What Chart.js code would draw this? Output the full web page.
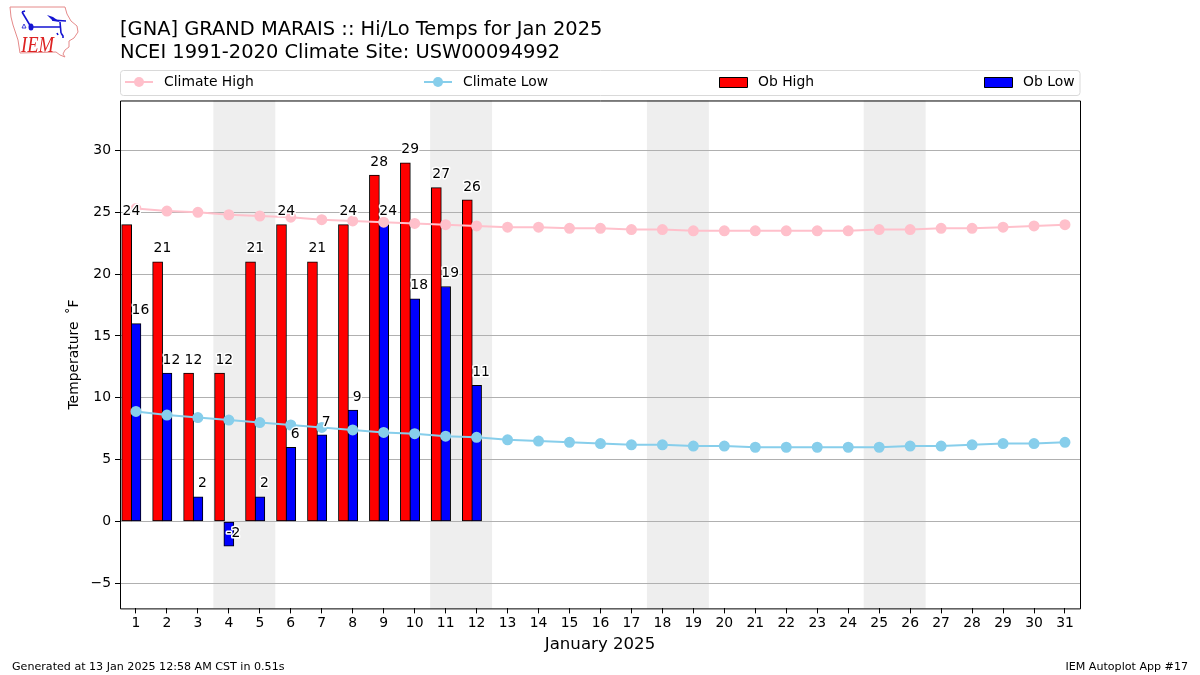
<!DOCTYPE html>
<html>
<head>
<meta charset="utf-8">
<title>GNA Hi/Lo Temps</title>
<script src="https://cdn.jsdelivr.net/npm/chart.js@4"></script>
<style>
    body { margin: 0; background: #fff; }
    #wrap { position: relative; width: 1200px; height: 675px; }
    #logo { position: absolute; left: 0; top: 0; }
</style>
</head>
<body>
<div id="wrap">
    <canvas id="tempChart" width="1200" height="675"></canvas>
    <svg id="logo" width="90" height="64" viewBox="0 0 90 64">
        <path d="M10 7 L65 7 L67 14 L71 21 L77 26 L78 32 L74 38 L69 41 L69 47 L65 50 L63 54 L65 57 L60 55 L56 52 L20 53 L18 40 L13 25 L11 17 Z" fill="#fff" stroke="#e58a8a" stroke-width="1"/>
        <path d="M31 27 L60 27 M60 22 L61 33 M52 20 L66 21 M31 27 L25 17 L22 12 M22 12 L25 11 M61 33 L63 36 L63 38 M57 33 L58 35" fill="none" stroke="#1414d2" stroke-width="1.6"/>
        <path d="M47 15 L53 17 L60 22 L53 21 Z" fill="#1414d2"/>
        <ellipse cx="31" cy="27" rx="2.5" ry="3.5" fill="#1414d2"/>
        <path d="M24 24 L26 28 L22 28 Z" fill="none" stroke="#1414d2" stroke-width="0.8"/>
        <text x="21" y="52" font-family="Liberation Serif" font-style="italic" font-size="24" textLength="33" lengthAdjust="spacingAndGlyphs" fill="#d22">IEM</text>
    </svg>
</div>
<script>
// hodnoty
const days = [1,2,3,4,5,6,7,8,9,10,11,12,13,14,15,16,17,18,19,20,21,22,23,24,25,26,27,28,29,30,31];
const obHigh = [24,21,12,12,21,24,21,24,28,29,27,26];
const obLow = [16,12,2,-2,2,6,7,9,24,18,19,11];
const climateHigh = [25.3,25.1,25.0,24.8,24.7,24.6,24.4,24.3,24.2,24.1,24.0,23.9,23.8,23.8,23.7,23.7,23.6,23.6,23.5,23.5,23.5,23.5,23.5,23.5,23.6,23.6,23.7,23.7,23.8,23.9,24.0];
const climateLow = [8.9,8.6,8.4,8.2,8.0,7.8,7.6,7.4,7.2,7.1,6.9,6.8,6.6,6.5,6.4,6.3,6.2,6.2,6.1,6.1,6.0,6.0,6.0,6.0,6.0,6.1,6.1,6.2,6.3,6.3,6.4];
const yTicks = [-5,0,5,10,15,20,25,30];
const weekends = [[3.5,5.5],[10.5,12.5],[17.5,19.5],[24.5,26.5]];
const titleLines = ['[GNA] GRAND MARAIS :: Hi/Lo Temps for Jan 2025', 'NCEI 1991-2020 Climate Site: USW00094992'];
const footerLeft = 'Generated at 13 Jan 2025 12:58 AM CST in 0.51s';
const footerRight = 'IEM Autoplot App #17';

const FONT = '"DejaVu Sans"';

// sede pruhy vikendu pod mrizkou
const weekendBands = {
    id: 'weekendBands',
    beforeDraw(chart) {
        const { ctx, chartArea, scales } = chart;
        ctx.save();
        ctx.fillStyle = '#eeeeee';
        weekends.forEach(function (w) {
            const x0 = scales.x.getPixelForValue(w[0]);
            const x1 = scales.x.getPixelForValue(w[1]);
            ctx.fillRect(x0, chartArea.top, x1 - x0, chartArea.bottom - chartArea.top);
        });
        ctx.restore();
    }
};

// popisky nad sloupci, ramecek grafu, legenda a paticka
const extras = {
    id: 'extras',
    afterDraw(chart) {
        const { ctx, chartArea, scales } = chart;
        ctx.save();

        // popisky
        ctx.font = '13.9px ' + FONT;
        ctx.textAlign = 'center';
        ctx.textBaseline = 'middle';
        ctx.lineJoin = 'round';
        function barLabel(day, value, dx) {
            const x = scales.x.getPixelForValue(day) + dx;
            const y = scales.y.getPixelForValue(value) - 13;
            ctx.lineWidth = 3;
            ctx.strokeStyle = '#fff';
            ctx.strokeText(String(value), x, y);
            ctx.fillStyle = '#000';
            ctx.fillText(String(value), x, y);
        }
        obHigh.forEach(function (v, i) { barLabel(days[i], v, -4.5); });
        obLow.forEach(function (v, i) { barLabel(days[i], v, 4.5); });

        // ramecek
        ctx.strokeStyle = '#000';
        ctx.lineWidth = 1;
        ctx.strokeRect(chartArea.left + 0.5, chartArea.top + 0.5, chartArea.right - chartArea.left, chartArea.bottom - chartArea.top);

        // legenda
        ctx.strokeStyle = '#d9d9d9';
        ctx.beginPath();
        ctx.roundRect(120.5, 70.5, 959.5, 25, 3);
        ctx.stroke();
        ctx.textAlign = 'left';
        ctx.fillStyle = '#000';
        const legendY = 82;
        const ds = chart.data.datasets;
        [[ds[0], 125], [ds[1], 424]].forEach(function (item) {
            const d = item[0], x = item[1];
            ctx.strokeStyle = d.borderColor;
            ctx.lineWidth = 2;
            ctx.beginPath();
            ctx.moveTo(x, legendY);
            ctx.lineTo(x + 28, legendY);
            ctx.stroke();
            ctx.fillStyle = d.pointBackgroundColor;
            ctx.beginPath();
            ctx.arc(x + 14, legendY, 5, 0, Math.PI * 2);
            ctx.fill();
            ctx.fillStyle = '#000';
            ctx.fillText(d.label, x + 39, legendY);
        });
        [[ds[2], 719], [ds[3], 984]].forEach(function (item) {
            const d = item[0], x = item[1];
            ctx.fillStyle = d.backgroundColor;
            ctx.fillRect(x, legendY - 4.5, 28, 10);
            ctx.strokeStyle = '#000';
            ctx.lineWidth = 1;
            ctx.strokeRect(x + 0.5, legendY - 4.5, 28, 10);
            ctx.fillStyle = '#000';
            ctx.fillText(d.label, x + 39, legendY);
        });

        // paticka
        ctx.font = '11.1px ' + FONT;
        ctx.textBaseline = 'alphabetic';
        ctx.fillText(footerLeft, 12, 670);
        ctx.textAlign = 'right';
        ctx.fillText(footerRight, 1188, 670);
        ctx.restore();
    }
};

new Chart(document.getElementById('tempChart').getContext('2d'), {
    data: {
        datasets: [
            {
                type: 'line',
                label: 'Climate High',
                data: days.map(function (d, i) { return { x: d, y: climateHigh[i] }; }),
                borderColor: 'pink',
                pointBackgroundColor: 'pink',
                pointBorderColor: 'pink',
                borderWidth: 2,
                pointRadius: 4.5,
                order: 0
            },
            {
                type: 'line',
                label: 'Climate Low',
                data: days.map(function (d, i) { return { x: d, y: climateLow[i] }; }),
                borderColor: 'skyblue',
                pointBackgroundColor: 'skyblue',
                pointBorderColor: 'skyblue',
                borderWidth: 2,
                pointRadius: 4.5,
                order: 0
            },
            {
                type: 'bar',
                label: 'Ob High',
                data: obHigh.map(function (v, i) { return { x: days[i] - 0.3, y: v }; }),
                backgroundColor: '#ff0000',
                borderColor: '#000',
                borderWidth: 1,
                borderSkipped: false,
                barThickness: 10,
                grouped: false,
                order: 1
            },
            {
                type: 'bar',
                label: 'Ob Low',
                data: obLow.map(function (v, i) { return { x: days[i], y: v }; }),
                backgroundColor: '#0000ff',
                borderColor: '#000',
                borderWidth: 1,
                borderSkipped: false,
                barThickness: 10,
                grouped: false,
                order: 1
            }
        ]
    },
    options: {
        responsive: false,
        animation: false,
        layout: { padding: { left: 62, right: 120, top: 0, bottom: 0 } },
        scales: {
            x: {
                type: 'linear',
                min: 0.485,
                max: 31.485,
                offset: false,
                afterBuildTicks: function (axis) { axis.ticks = days.map(function (d) { return { value: d }; }); },
                grid: { offset: false, drawOnChartArea: false, tickColor: '#000', tickLength: 5 },
                border: { display: false },
                ticks: { color: '#000', autoSkip: false, maxRotation: 0, padding: 2, font: { family: FONT, size: 13.9 } },
                title: { display: true, text: 'January 2025', color: '#000', padding: { top: 1, bottom: 20 }, font: { family: FONT, size: 16.6 } }
            },
            y: {
                min: -7.03,
                max: 34.04,
                afterBuildTicks: function (axis) { axis.ticks = yTicks.map(function (v) { return { value: v }; }); },
                afterFit: function (axis) { axis.width = 58; },
                grid: { color: '#b0b0b0', tickColor: '#000', tickLength: 5 },
                border: { display: false },
                ticks: {
                    color: '#000',
                    padding: 4,
                    font: { family: FONT, size: 13.9 },
                    callback: function (v) { return String(v).replace('-', '\u2212'); }
                },
                title: { display: true, text: 'Temperature \u2009\u02daF', color: '#000', padding: { bottom: 4 }, font: { family: FONT, size: 13.9 } }
            }
        },
        plugins: {
            legend: { display: false },
            tooltip: { enabled: false },
            title: {
                display: true,
                text: titleLines,
                align: 'start',
                fullSize: false,
                color: '#000',
                font: { family: FONT, size: 19.44, weight: 'normal', lineHeight: 1.17 },
                padding: { top: 19, bottom: 36 }
            }
        }
    },
    plugins: [weekendBands, extras]
});
</script>
</body>
</html>
